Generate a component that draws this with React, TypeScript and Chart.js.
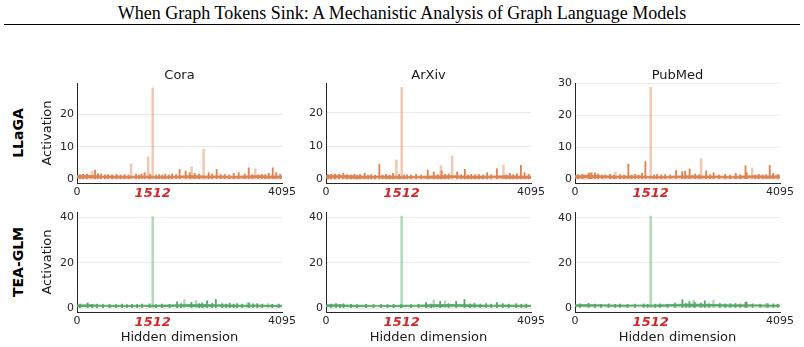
import React, { useEffect, useRef } from "react";
import { Chart, registerables } from "chart.js";

Chart.register(...registerables);

// ---------- text ----------
const mainTitle = "When Graph Tokens Sink: A Mechanistic Analysis of Graph Language Models";
const datasetNames = ["Cora", "ArXiv", "PubMed"];
const modelNames = ["LLaGA", "TEA-GLM"];
const xTickValues = [0, 1512, 4095];
const sinkDim = 1512;
const xMax = 4095;

// ---------- y axes ----------
const llagaYTicks = [[0, 10, 20], [0, 10, 20], [0, 10, 20, 30]];
const llagaYRange = [[-1.2, 29.8], [-1.1, 28.9], [-1.2, 30.0]];
const teaYTicks = [[0, 20, 40], [0, 20, 40], [0, 20, 40]];
const teaYRange = [[-1.7, 42.4], [-1.7, 42.4], [-1.8, 42.6]];

// ---------- noise floor (read at these dims) ----------
const noiseDims = [0, 256, 512, 768, 1024, 1280, 1536, 1792, 2048, 2304, 2560, 2816, 3072, 3328, 3584, 3840, 4095];

const coraLlagaNoiseHigh = [1.1, 1.2, 1.0, 1.0, 0.9, 1.0, 0.9, 0.9, 1.0, 1.1, 1.0, 1.0, 0.9, 1.0, 1.1, 1.0, 1.0];
const coraLlagaNoiseLow = [0.2, 0.2, 0.3, 0.2, 0.2, 0.3, 0.2, 0.2, 0.3, 0.2, 0.2, 0.3, 0.2, 0.2, 0.3, 0.2, 0.2];
const arxivLlagaNoiseHigh = [1.2, 1.2, 1.1, 1.0, 1.0, 1.0, 0.9, 0.9, 1.0, 1.1, 1.1, 1.0, 1.0, 1.0, 1.1, 1.0, 1.0];
const arxivLlagaNoiseLow = [0.2, 0.3, 0.2, 0.2, 0.3, 0.2, 0.2, 0.3, 0.2, 0.2, 0.3, 0.2, 0.2, 0.3, 0.2, 0.2, 0.2];
const pubmedLlagaNoiseHigh = [1.1, 1.3, 1.1, 1.0, 1.0, 1.0, 0.9, 0.9, 1.0, 1.1, 1.0, 1.0, 0.9, 1.0, 1.1, 1.0, 1.1];
const pubmedLlagaNoiseLow = [0.2, 0.2, 0.3, 0.2, 0.2, 0.3, 0.2, 0.2, 0.3, 0.2, 0.2, 0.3, 0.2, 0.2, 0.3, 0.2, 0.2];

const coraTeaNoiseHigh = [1.4, 1.5, 1.3, 1.3, 1.2, 1.3, 1.3, 1.4, 1.5, 1.6, 1.6, 1.5, 1.4, 1.3, 1.4, 1.3, 1.3];
const coraTeaNoiseLow = [0.5, 0.5, 0.6, 0.5, 0.5, 0.6, 0.5, 0.5, 0.6, 0.5, 0.5, 0.6, 0.5, 0.5, 0.6, 0.5, 0.5];
const arxivTeaNoiseHigh = [1.5, 1.5, 1.3, 1.3, 1.2, 1.2, 1.3, 1.3, 1.5, 1.6, 1.6, 1.5, 1.4, 1.3, 1.4, 1.3, 1.3];
const arxivTeaNoiseLow = [0.5, 0.6, 0.5, 0.5, 0.6, 0.5, 0.5, 0.6, 0.5, 0.5, 0.6, 0.5, 0.5, 0.6, 0.5, 0.5, 0.5];
const pubmedTeaNoiseHigh = [1.4, 1.5, 1.4, 1.3, 1.3, 1.3, 1.3, 1.4, 1.6, 1.7, 1.6, 1.5, 1.4, 1.4, 1.4, 1.3, 1.3];
const pubmedTeaNoiseLow = [0.5, 0.5, 0.6, 0.5, 0.5, 0.6, 0.5, 0.5, 0.6, 0.5, 0.5, 0.6, 0.5, 0.5, 0.6, 0.5, 0.5];

// ---------- spikes (dims / activation) ----------
const coraLlagaDims = [60, 120, 200, 360, 420, 480, 560, 620, 700, 790, 870, 950, 1030, 1180, 1240, 1290, 1350, 1460, 1580, 1640, 1700, 1760, 1830, 1900, 1980, 2050, 2170, 2250, 2350, 2440, 2630, 2700, 2790, 2870, 2950, 3040, 3130, 3230, 3350, 3430, 3500, 3620, 3690, 3760, 3830, 3910, 3980, 4060];
const coraLlagaVals = [1.4, 1.5, 1.6, 2.8, 1.7, 1.6, 1.3, 1.4, 1.3, 1.5, 1.3, 1.4, 1.3, 1.5, 1.3, 1.6, 2.0, 1.5, 1.3, 1.4, 1.3, 1.5, 1.3, 1.6, 1.4, 3.0, 2.5, 2.0, 1.8, 1.6, 2.0, 1.6, 3.0, 1.4, 1.5, 1.3, 1.8, 2.0, 1.6, 3.5, 1.4, 1.3, 1.5, 1.4, 1.8, 3.5, 2.0, 1.5];
const coraLlagaLightDims = [300, 1080, 1420, 1512, 2290, 2530, 3560];
const coraLlagaLightVals = [2.5, 4.7, 6.9, 28.3, 3.8, 9.3, 3.2];

const arxivLlagaDims = [40, 100, 180, 260, 346, 420, 500, 566, 620, 680, 773, 840, 900, 980, 1066, 1130, 1200, 1270, 1340, 1460, 1560, 1620, 1700, 1800, 1900, 2033, 2153, 2230, 2310, 2380, 2450, 2620, 2700, 2773, 2840, 2900, 2980, 3050, 3140, 3220, 3300, 3413, 3600, 3673, 3740, 3813, 3893, 3966, 4050];
const arxivLlagaVals = [1.4, 1.5, 1.6, 1.5, 1.8, 1.4, 1.3, 1.5, 1.3, 1.4, 1.8, 1.3, 1.4, 1.3, 4.5, 1.3, 1.5, 1.3, 1.8, 1.5, 1.3, 1.4, 1.3, 1.5, 1.3, 2.8, 2.2, 1.4, 2.5, 1.5, 1.6, 2.2, 1.4, 3.0, 1.3, 1.5, 1.4, 1.5, 1.3, 2.0, 1.4, 3.2, 1.3, 1.8, 1.4, 1.7, 4.2, 2.0, 1.5];
const arxivLlagaLightDims = [1406, 1512, 2293, 2520, 3546];
const arxivLlagaLightVals = [5.8, 27.6, 4.1, 7.0, 4.3];

const pubmedLlagaDims = [60, 150, 280, 330, 400, 460, 540, 700, 780, 900, 980, 1066, 1130, 1200, 1270, 1340, 1406, 1580, 1640, 1720, 1800, 1900, 2020, 2140, 2200, 2290, 2400, 2480, 2620, 2700, 2770, 2880, 3000, 3100, 3210, 3300, 3406, 3430, 3600, 3670, 3750, 3820, 3890, 3960, 4050];
const pubmedLlagaVals = [1.4, 1.5, 1.9, 2.0, 2.0, 1.6, 1.3, 1.5, 1.3, 1.4, 1.3, 4.7, 1.3, 1.5, 1.3, 1.8, 5.5, 1.3, 1.5, 1.3, 1.4, 1.3, 2.7, 2.3, 2.5, 3.2, 1.6, 1.4, 2.6, 1.4, 2.0, 1.3, 1.5, 1.3, 1.8, 1.4, 4.2, 2.0, 1.3, 1.5, 1.3, 1.4, 4.3, 1.8, 1.5];
const pubmedLlagaLightDims = [300, 600, 806, 1512, 2520, 3540];
const pubmedLlagaLightVals = [1.9, 1.5, 2.2, 28.7, 6.4, 3.5];

const coraTeaDims = [60, 213, 300, 400, 520, 650, 780, 900, 1000, 1100, 1200, 1300, 1450, 1580, 1700, 1850, 2000, 2080, 2286, 2440, 2500, 2600, 2700, 2773, 2900, 2980, 3050, 3130, 3200, 3300, 3440, 3520, 3600, 3700, 3900, 4030];
const coraTeaVals = [1.8, 2.3, 1.7, 1.8, 1.6, 1.7, 1.6, 1.8, 1.6, 1.7, 1.6, 1.8, 1.9, 1.6, 1.8, 1.7, 2.8, 2.0, 2.6, 2.0, 2.3, 3.3, 2.1, 3.8, 2.0, 1.8, 2.2, 1.8, 2.0, 1.8, 2.3, 1.9, 2.0, 1.8, 1.7, 1.8];
const coraTeaLightDims = [1512, 2146, 2380, 3410, 3820];
const coraTeaLightVals = [40.3, 3.7, 3.5, 2.5, 2.0];

const arxivTeaDims = [100, 200, 280, 350, 500, 620, 800, 950, 1100, 1230, 1350, 1500, 1700, 1850, 2000, 2100, 2280, 2450, 2600, 2766, 2880, 2966, 3080, 3200, 3300, 3413, 3530, 3650, 3800, 3900, 4000];
const arxivTeaVals = [1.8, 2.0, 1.7, 1.9, 1.7, 1.6, 1.7, 1.6, 1.6, 1.6, 1.7, 1.6, 1.6, 1.7, 2.5, 1.8, 3.0, 2.0, 3.0, 3.8, 1.9, 2.2, 1.8, 2.0, 1.8, 2.5, 2.0, 1.8, 2.0, 1.7, 1.8];
const arxivTeaLightDims = [1512, 2153, 2380];
const arxivTeaLightVals = [40.6, 3.6, 3.2];

const pubmedTeaDims = [100, 270, 400, 520, 670, 800, 900, 1050, 1200, 1370, 1450, 1600, 1700, 1850, 2000, 2146, 2220, 2286, 2393, 2513, 2593, 2680, 2893, 3000, 3100, 3206, 3300, 3406, 3426, 3550, 3700, 3850, 3960, 4050];
const pubmedTeaVals = [1.8, 2.0, 1.7, 1.6, 1.8, 1.6, 1.7, 1.6, 1.7, 1.8, 1.6, 1.7, 1.8, 1.7, 2.2, 3.7, 1.9, 2.8, 2.5, 2.2, 3.2, 1.9, 2.0, 1.8, 1.9, 2.0, 1.8, 2.5, 2.7, 1.8, 1.7, 1.9, 1.8, 1.7];
const pubmedTeaLightDims = [1512, 2373, 2766, 3826];
const pubmedTeaLightVals = [40.8, 3.5, 3.5, 2.0];

// ---------- styling ----------
const FONT = "'DejaVu Sans', sans-serif";
const TEXT = "#1a1a1a";
const AXIS = "#262626";
const RED = "#d62728";
const rowColors = ["#dd8452", "#55a868"];
const rowLight = ["rgba(221,132,82,0.45)", "rgba(85,168,104,0.45)"];

const plotLeft = [77, 326, 575];
const plotWidth = 205;
const rowCanvasTop = [66, 202];
const rowPadTop = [0, 10];
const rowXAxisH = [22, 35];
const rowPlotBottom = [183, 312];
const padRight = 18;

type PanelDef = {
  row: number;
  col: number;
  noiseHigh: number[];
  noiseLow: number[];
  dims: number[];
  vals: number[];
  lightDims: number[];
  lightVals: number[];
  yTicks: number[];
  yRange: number[];
};

const panels: PanelDef[] = [
  { row: 0, col: 0, noiseHigh: coraLlagaNoiseHigh, noiseLow: coraLlagaNoiseLow, dims: coraLlagaDims, vals: coraLlagaVals, lightDims: coraLlagaLightDims, lightVals: coraLlagaLightVals, yTicks: llagaYTicks[0], yRange: llagaYRange[0] },
  { row: 0, col: 1, noiseHigh: arxivLlagaNoiseHigh, noiseLow: arxivLlagaNoiseLow, dims: arxivLlagaDims, vals: arxivLlagaVals, lightDims: arxivLlagaLightDims, lightVals: arxivLlagaLightVals, yTicks: llagaYTicks[1], yRange: llagaYRange[1] },
  { row: 0, col: 2, noiseHigh: pubmedLlagaNoiseHigh, noiseLow: pubmedLlagaNoiseLow, dims: pubmedLlagaDims, vals: pubmedLlagaVals, lightDims: pubmedLlagaLightDims, lightVals: pubmedLlagaLightVals, yTicks: llagaYTicks[2], yRange: llagaYRange[2] },
  { row: 1, col: 0, noiseHigh: coraTeaNoiseHigh, noiseLow: coraTeaNoiseLow, dims: coraTeaDims, vals: coraTeaVals, lightDims: coraTeaLightDims, lightVals: coraTeaLightVals, yTicks: teaYTicks[0], yRange: teaYRange[0] },
  { row: 1, col: 1, noiseHigh: arxivTeaNoiseHigh, noiseLow: arxivTeaNoiseLow, dims: arxivTeaDims, vals: arxivTeaVals, lightDims: arxivTeaLightDims, lightVals: arxivTeaLightVals, yTicks: teaYTicks[1], yRange: teaYRange[1] },
  { row: 1, col: 2, noiseHigh: pubmedTeaNoiseHigh, noiseLow: pubmedTeaNoiseLow, dims: pubmedTeaDims, vals: pubmedTeaVals, lightDims: pubmedTeaLightDims, lightVals: pubmedTeaLightVals, yTicks: teaYTicks[2], yRange: teaYRange[2] },
];

function Panel({ p }: { p: PanelDef }) {
  const ref = useRef<HTMLCanvasElement>(null);
  const yw = p.col === 0 ? 41 : 32;
  const cx = plotLeft[p.col] - yw;
  const cy = rowCanvasTop[p.row];
  const xh = rowXAxisH[p.row];
  const cw = yw + plotWidth + padRight;
  const ch = rowPlotBottom[p.row] - cy + xh;
  const color = rowColors[p.row];
  const light = rowLight[p.row];

  useEffect(() => {
    const chart = new Chart(ref.current as HTMLCanvasElement, {
      type: "bar",
      data: {
        datasets: [
          {
            type: "line",
            data: noiseDims.map((x, i) => ({ x, y: p.noiseLow[i] })),
            borderColor: "rgba(0,0,0,0)",
            borderWidth: 1,
            pointRadius: 0,
            fill: false,
            order: 3,
          } as any,
          {
            type: "line",
            data: noiseDims.map((x, i) => ({ x, y: p.noiseHigh[i] })),
            borderColor: color,
            borderWidth: 0.8,
            backgroundColor: color,
            pointRadius: 0,
            fill: "-1",
            order: 3,
          } as any,
          {
            type: "bar",
            data: p.dims.map((x, i) => ({ x, y: p.vals[i] })),
            backgroundColor: color,
            borderWidth: 0,
            barThickness: 1.2,
            grouped: false,
            order: 2,
          } as any,
          {
            type: "bar",
            data: p.lightDims.map((x, i) => ({ x, y: p.lightVals[i] })),
            backgroundColor: light,
            borderWidth: 0,
            barThickness: 1.8,
            grouped: false,
            order: 1,
          } as any,
        ],
      },
      options: {
        responsive: false,
        animation: false,
        devicePixelRatio: 1,
        layout: { padding: { left: 0, right: padRight, top: rowPadTop[p.row], bottom: 0 } },
        plugins: {
          legend: { display: false },
          tooltip: { enabled: false },
          title: {
            display: p.row === 0,
            text: datasetNames[p.col],
            fullSize: false,
            color: TEXT,
            font: { family: FONT, size: 13, weight: "normal" },
            padding: { top: 1.4, bottom: 0 },
          },
        },
        scales: {
          x: {
            type: "linear",
            min: 0,
            max: xMax,
            offset: false,
            afterBuildTicks: (s: any) => {
              s.ticks = xTickValues.map((v) => ({ value: v }));
            },
            afterFit: (s: any) => {
              s.height = xh;
            },
            grid: { display: false, drawTicks: false },
            border: { display: true, color: AXIS, width: 1 },
            ticks: {
              autoSkip: false,
              maxRotation: 0,
              padding: 3,
              callback: (v: any) => String(v),
              color: (ctx: any) => (ctx.tick && ctx.tick.value === sinkDim ? RED : AXIS),
              font: (ctx: any) =>
                ctx.tick && ctx.tick.value === sinkDim
                  ? { family: FONT, size: 13, weight: "bold", style: "italic" }
                  : { family: FONT, size: 11 },
            },
            title: {
              display: p.row === 1,
              text: "Hidden dimension",
              color: TEXT,
              font: { family: FONT, size: 13 },
              padding: { top: 0, bottom: 2 },
            },
          },
          y: {
            type: "linear",
            min: p.yRange[0],
            max: p.yRange[1],
            afterBuildTicks: (s: any) => {
              s.ticks = p.yTicks.map((v) => ({ value: v }));
            },
            afterFit: (s: any) => {
              s.width = yw;
            },
            grid: { color: "#ebebeb", lineWidth: 1, drawTicks: false },
            border: { display: true, color: AXIS, width: 1 },
            ticks: { padding: 3, color: AXIS, font: { family: FONT, size: 11 } },
            title: {
              display: p.col === 0,
              text: "Activation",
              color: TEXT,
              font: { family: FONT, size: 13 },
              padding: { top: 4, bottom: 0 },
            },
          },
        },
      } as any,
    });
    return () => chart.destroy();
  }, []);

  return (
    <canvas
      ref={ref}
      width={cw}
      height={ch}
      style={{ position: "absolute", left: cx, top: cy, width: cw, height: ch }}
    />
  );
}

export default function App() {
  return (
    <div style={{ position: "absolute", left: 0, top: 0, width: 804, height: 347, overflow: "hidden", background: "#fff" }}>
      <div
        style={{
          position: "absolute",
          left: 0,
          top: 3,
          width: 804,
          textAlign: "center",
          fontFamily: "'Liberation Serif', 'Times New Roman', serif",
          fontSize: 18,
          lineHeight: "20px",
          color: "#000",
          whiteSpace: "nowrap",
        }}
      >
        {mainTitle}
      </div>
      <div style={{ position: "absolute", left: 4, top: 24, width: 796, height: 1.3, background: "#000" }} />
      {modelNames.map((m, i) => (
        <div
          key={m}
          style={{
            position: "absolute",
            left: 18,
            top: i === 0 ? 133 : 262,
            transform: "translate(-50%, -50%) rotate(-90deg)",
            fontFamily: FONT,
            fontWeight: "bold",
            fontSize: 14,
            lineHeight: "16px",
            color: "#000",
            whiteSpace: "nowrap",
          }}
        >
          {m}
        </div>
      ))}
      {panels.map((p) => (
        <Panel key={`${p.row}-${p.col}`} p={p} />
      ))}
    </div>
  );
}
